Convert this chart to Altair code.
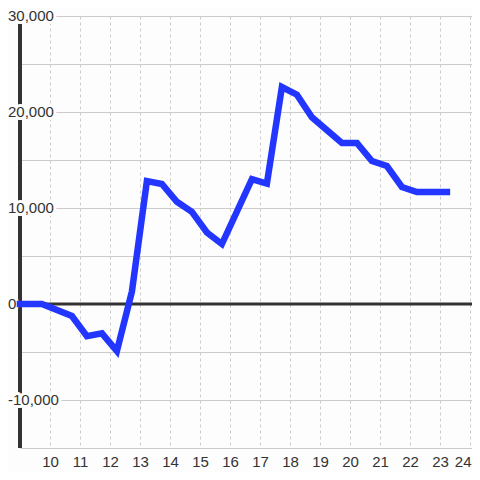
import altair as alt
import pandas as pd

# Series (decimal hours, value)
hours = [9.0, 9.73, 10.73, 11.23, 11.73, 12.23, 12.73, 13.23, 13.73, 14.23,
         14.73, 15.23, 15.73, 16.73, 17.23, 17.73, 18.23, 18.73, 19.73, 20.23,
         20.73, 21.23, 21.73, 22.23, 23.23]
values = [0, 0, -1250, -3350, -3050, -4900, 1300, 12800, 12500, 10650,
          9600, 7450, 6250, 13000, 12550, 22600, 21800, 19450, 16770, 16770,
          14900, 14375, 12190, 11670, 11670]

x_ticks = list(range(10, 25))
y_grid = list(range(-15000, 30001, 5000))
y_label_values = [30000, 20000, 10000, 0, -10000]
y_label_text = ["30,000", "20,000", "10,000", "0", "-10,000"]
zero_line = [0]

BG = "#fcfdfc"
FONT = "Liberation Sans"
TEXT = "#333333"
W, H = 452, 432

df = pd.DataFrame({"hour": hours, "value": values})
labels_df = pd.DataFrame({"value": y_label_values, "label": y_label_text})
zero_df = pd.DataFrame({"value": zero_line})

xscale = alt.Scale(domain=[9, 9 + W / 30.0], nice=False, zero=False)
yscale = alt.Scale(domain=[-15000, 30000], nice=False, zero=False)

zero_rule = alt.Chart(zero_df).mark_rule(color=TEXT, strokeWidth=3).encode(
    y=alt.Y("value:Q", scale=yscale, title=None,
            axis=alt.Axis(values=y_grid, grid=True, gridColor="#cccccc",
                          gridWidth=1, labels=False, ticks=False,
                          domain=False, title=None)),
)

y_axis_line = alt.Chart(zero_df).mark_rule(color=TEXT, strokeWidth=4).encode(
    x=alt.value(0), y=alt.value(0), y2=alt.value(H)
)

halo = alt.Chart(labels_df).mark_text(
    align="left", baseline="middle", font=FONT, fontSize=15,
    fill=BG, stroke=BG, strokeWidth=6, strokeJoin="round"
).encode(
    x=alt.value(-12),
    y=alt.Y("value:Q", scale=yscale, title=None),
    text="label:N",
)

ylabels = alt.Chart(labels_df).mark_text(
    align="left", baseline="middle", font=FONT, fontSize=15, color=TEXT
).encode(
    x=alt.value(-12),
    y=alt.Y("value:Q", scale=yscale, title=None),
    text="label:N",
)

line = alt.Chart(df).mark_line(
    color="#2236ff", strokeWidth=6.5, strokeCap="square", strokeJoin="miter"
).encode(
    x=alt.X("hour:Q", scale=xscale, title=None,
            axis=alt.Axis(values=x_ticks, grid=True, gridDash=[3, 3],
                          gridColor="#cccccc", gridWidth=1, domain=False,
                          ticks=False, tickSize=0, labelPadding=6,
                          labelFontSize=15, labelColor=TEXT, labelFont=FONT,
                          format="d", title=None, labelFlush=4,
                          labelFlushOffset=1)),
    y=alt.Y("value:Q", scale=yscale, title=None),
)

chart = alt.layer(zero_rule, y_axis_line, halo, ylabels, line).properties(
    width=W, height=H,
    autosize=alt.AutoSizeParams(type="none"),
    padding={"left": 12, "top": 8, "right": 0, "bottom": 24},
    background=BG,
).configure_view(stroke=None)

chart.save("out.html", embed_options={"renderer": "svg", "actions": False})
